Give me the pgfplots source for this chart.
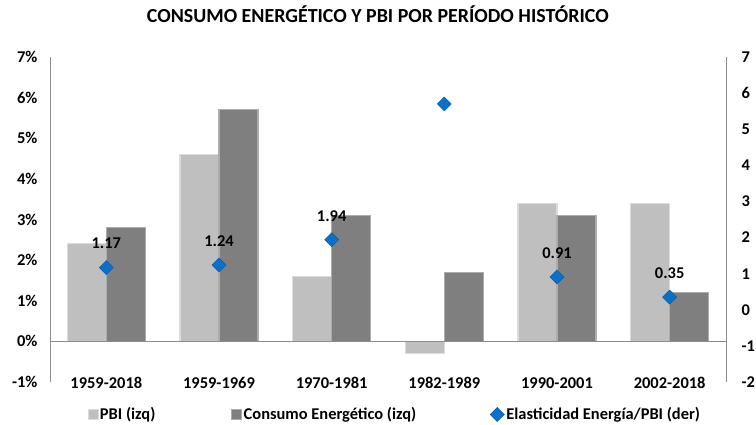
\documentclass[border=0pt]{standalone}
\usepackage{fontspec}
\setmainfont{Carlito}
\usepackage{pgfplots}
\pgfplotsset{compat=1.18}
\definecolor{pbigray}{HTML}{BFBFBF}
\definecolor{congray}{HTML}{7F7F7F}
\definecolor{elblue}{HTML}{0B70C9}
\definecolor{axgray}{HTML}{8C8C8C}
\newcommand{\lblfont}{\fontsize{16.5}{19}\selectfont\bfseries}

\begin{document}
\begin{tikzpicture}
\pgfplotsset{
  base/.style={
    scale only axis, width=676bp, height=325bp,
    at={(0,0)}, anchor=south west,
    xmin=-0.5, xmax=5.5,
    /pgf/number format/assume math mode=true,
    tick label style={font=\lblfont},
    axis line style={axgray, line width=0.8pt},
    major tick length=0pt,
  },
  sq/.style={legend image code/.code={\draw[##1] (0bp,-5bp) rectangle (10bp,5bp);}},
}
% left axis: growth rates (bars)
\begin{axis}[base,
    ymin=-1, ymax=7, ytick={-1,0,...,7},
    axis y line*=left, axis x line*=bottom,
    x axis line style={draw=none},
    xtick={0,...,5},
    xticklabels={1959-2018,1959-1969,1970-1981,1982-1989,1990-2001,2002-2018},
    xticklabel style={anchor=center, yshift=-1bp},
    yticklabel={\pgfmathprintnumber{\tick}\%},
    yticklabel style={xshift=-9bp},
    ybar=0pt, bar width=39bp,
    title={CONSUMO ENERGÉTICO Y PBI POR PERÍODO HISTÓRICO},
    title style={at={(0.485,1)}, anchor=center, yshift=37bp,
      font=\fontsize{20}{24}\selectfont\bfseries},
]
\addplot[fill=pbigray, draw=pbigray!55!white, line width=1.2pt]
  coordinates {(0,2.4) (1,4.6) (2,1.6) (3,-0.3) (4,3.4) (5,3.4)};
\addplot[fill=congray, draw=congray!65!white, line width=1.2pt]
  coordinates {(0,2.8) (1,5.7) (2,3.1) (3,1.7) (4,3.1) (5,1.2)};
\draw[axgray, line width=0.8pt] (-0.5,0) -- (5.5,0);
\end{axis}
% right axis: elasticity
\begin{axis}[base,
    ymin=-2, ymax=7, ytick={-2,-1,...,7},
    axis y line*=right, axis x line=none,
    yticklabel style={xshift=12bp},
    legend style={at={(0.51,-0.10)}, anchor=center, draw=none, fill=none,
      legend columns=3, font=\lblfont,
      /tikz/column 2/.style={column sep=74bp},
      /tikz/column 4/.style={column sep=72bp}},
    legend cell align=left,
]
\addlegendimage{sq, fill=pbigray, draw=pbigray!55!white}
\addlegendentry{PBI (izq)}
\addlegendimage{sq, fill=congray, draw=congray!65!white}
\addlegendentry{Consumo Energético (izq)}
\addplot[only marks, mark=square*, mark size=5bp,
    mark options={rotate=45, fill=elblue, draw=elblue!80!black},
    point meta=explicit symbolic, nodes near coords,
    nodes near coords style={anchor=center, yshift=24bp, text=black,
      font=\lblfont}]
  coordinates {(0,1.17) [1.17] (1,1.24) [1.24] (2,1.94) [1.94]
               (3,5.7) [] (4,0.91) [0.91] (5,0.35) [0.35]};
\addlegendentry{Elasticidad Energía/PBI (der)}
\end{axis}
\pgfresetboundingbox
\path (-50bp,-43bp) rectangle (706bp,382bp);
\end{tikzpicture}
\end{document}
